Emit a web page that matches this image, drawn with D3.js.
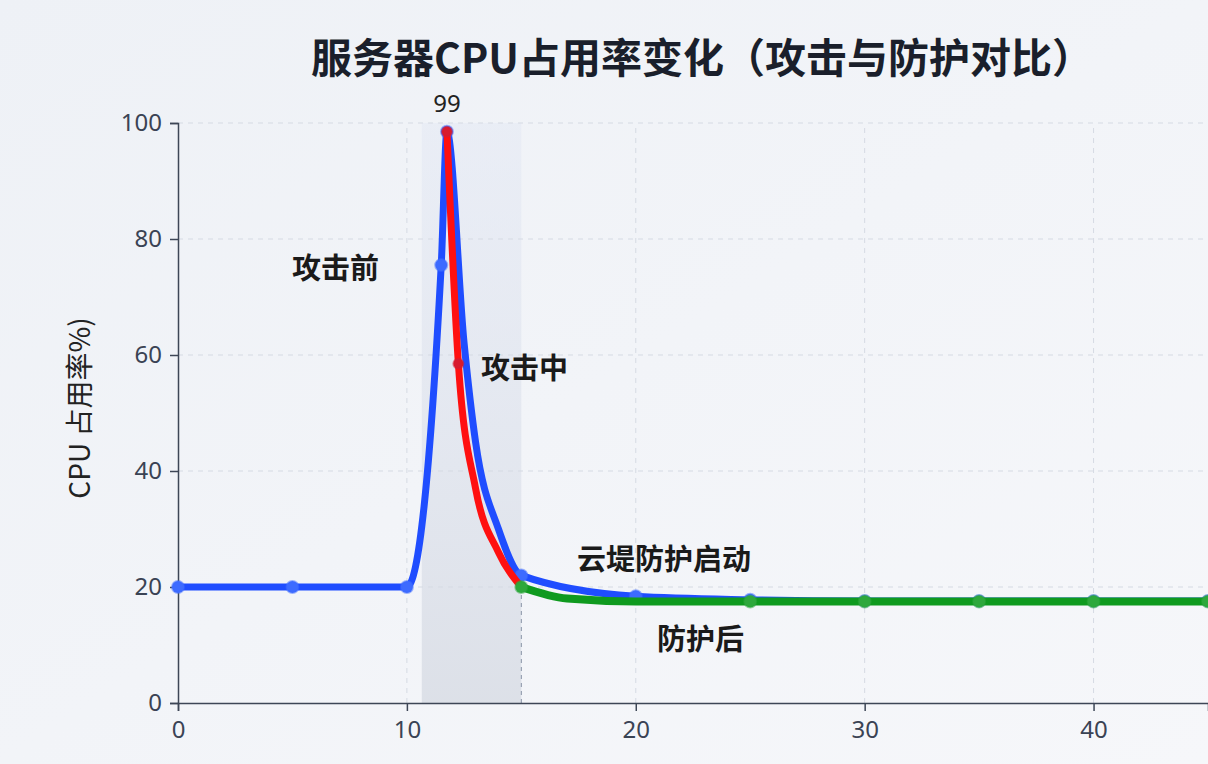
<!DOCTYPE html>
<html><head><meta charset="utf-8">
<script src="https://cdn.jsdelivr.net/npm/d3@7"></script>
<style>body{margin:0;background:#f3f5f9;font-family:"Noto Sans CJK SC","Noto Sans",sans-serif}</style>
</head><body><svg id="c" width="1208" height="764"></svg>
<script>
const xTicks=[0,10,20,30,40];
const yTicks=[0,20,40,60,80,100];
const blueX=[0,5,10,11.5,11.75,12.5,13,14,15,20,25,30,35,40,45];
const blueY=[20,20,20,75.5,98.5,62,45,30,22,18.4,17.8,17.6,17.6,17.6,17.6];
const blueMarks=[0,5,10,11.5,11.75,15,20,25,30,35,40,45];
const redX=[11.75,12.25,13,14,15];
const redY=[98.5,58.5,37,26,20];
const greenX=[15,17,20,25,30,35,40,45];
const greenY=[20,18,17.5,17.5,17.5,17.5,17.5,17.5];
const greenMarks=[15,25,30,35,40,45];
const labels=[["攻击前",292,279],["攻击中",481,379],["云堤防护启动",577,570],["防护后",657,650]];

const svg=d3.select("#c");
const defs=svg.append("defs");
const g0=defs.append("linearGradient").attr("id","bg").attr("x1",0).attr("y1",0).attr("x2",1).attr("y2",1);
g0.append("stop").attr("offset",0).attr("stop-color","#eef1f6");g0.append("stop").attr("offset",1).attr("stop-color","#f6f7fa");
svg.append("rect").attr("width",1208).attr("height",764).attr("fill","url(#bg)");
const x=d3.scaleLinear().domain([0,45]).range([178,1208]);
const y=d3.scaleLinear().domain([0,100]).range([703,123]);
const bg=defs.append("linearGradient").attr("id","band").attr("x1",0).attr("y1",0).attr("x2",0).attr("y2",1);
bg.append("stop").attr("offset",0).attr("stop-color","#e3e8f4").attr("stop-opacity",0.5);
bg.append("stop").attr("offset",1).attr("stop-color","#dadee6").attr("stop-opacity",0.9);
svg.append("rect").attr("x",x(10.65)).attr("y",y(100)).attr("width",x(15)-x(10.65)).attr("height",y(0)-y(100)).attr("fill","url(#band)");
svg.append("g").selectAll("line").data(yTicks.slice(1)).join("line").attr("x1",178).attr("x2",1208).attr("y1",d=>y(d)).attr("y2",d=>y(d)).attr("stroke","#d5dae3").attr("stroke-dasharray","5,5");
svg.append("g").selectAll("line").data([10,20,30,40]).join("line").attr("y1",y(0)).attr("y2",y(100)).attr("x1",d=>x(d)).attr("x2",d=>x(d)).attr("stroke","#d5dae3").attr("stroke-dasharray","5,5");
svg.append("line").attr("x1",x(15)).attr("x2",x(15)).attr("y1",y(20)).attr("y2",y(0)).attr("stroke","#8a95a8").attr("stroke-dasharray","4,4");
const ax=svg.append("g").attr("transform",`translate(0,${y(0)})`).call(d3.axisBottom(x).tickValues(xTicks).tickSize(8).tickPadding(10));
const ay=svg.append("g").attr("transform",`translate(178,0)`).call(d3.axisLeft(y).tickValues(yTicks).tickSize(8).tickPadding(8));
[ax,ay].forEach(a=>{a.selectAll("path,line").attr("stroke","#3d4656").attr("stroke-width",1.5);a.selectAll("text").attr("font-size",24).attr("fill","#3a4354").attr("font-family","Noto Sans, sans-serif");});
svg.append("text").attr("transform","translate(90,408) rotate(-90)").attr("text-anchor","middle").attr("font-size",28).attr("fill","#222").text("CPU 占用率%)");
svg.append("text").attr("x",702).attr("y",73).attr("text-anchor","middle").attr("font-size",41).attr("font-weight","bold").attr("fill","#1a1f2b").text("服务器CPU占用率变化（攻击与防护对比）");
const line=d3.line().x(d=>x(d[0])).y(d=>y(d[1])).curve(d3.curveMonotoneX);
function draw(xs,ys,col,w){svg.append("path").attr("d",line(xs.map((v,i)=>[v,ys[i]]))).attr("fill","none").attr("stroke",col).attr("stroke-width",w).attr("stroke-linecap","round");}
function marks(xs,allX,allY,col,r){svg.append("g").selectAll("circle").data(xs).join("circle").attr("cx",d=>x(d)).attr("cy",d=>y(allY[allX.indexOf(d)])).attr("r",r).attr("fill",col).attr("stroke",col).attr("stroke-opacity",0.5).attr("stroke-width",2);}
draw(blueX,blueY,"#1f4dff",7);
marks(blueMarks,blueX,blueY,"#3d6bff",6);
draw(greenX,greenY,"#0f9a1f",8);
draw(redX,redY,"#ff1010",7);
marks([11.75,12.25],redX,redY,"#d81b2f",5);
marks(greenMarks,greenX,greenY,"#2ea83c",6);
svg.append("text").attr("x",x(11.75)).attr("y",112).attr("text-anchor","middle").attr("font-size",24).attr("fill","#222").attr("font-family","Noto Sans, sans-serif").text("99");
svg.append("g").selectAll("text").data(labels).join("text").attr("x",d=>d[1]).attr("y",d=>d[2]).attr("font-size",29).attr("font-weight","bold").attr("fill","#1a1a1a").text(d=>d[0]);
</script></body></html>
